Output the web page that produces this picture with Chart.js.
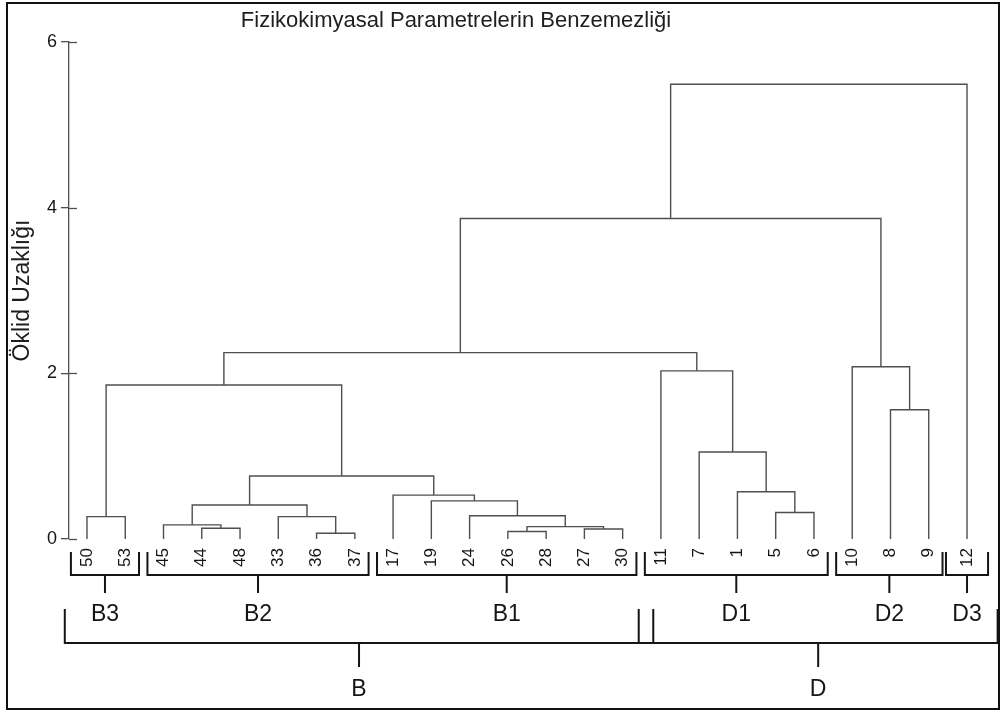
<!DOCTYPE html>
<html>
<head>
<meta charset="utf-8">
<script src="https://cdn.jsdelivr.net/npm/chart.js@4/dist/chart.umd.min.js"></script>
<style>
  html, body { margin: 0; padding: 0; background: #fff; }
  #wrap { width: 1002px; height: 713px; position: relative; }
</style>
</head>
<body>
<div id="wrap"><canvas id="c" width="1002" height="713"></canvas></div>
<script>
// Leaf order along the bottom of the dendrogram
const leafLabels = ['50','53','45','44','48','33','36','37','17','19','24','26','28','27','30','11','7','1','5','6','10','8','9','12'];

// Agglomeration steps: each step joins two nodes at a given distance.
// A node is either a leaf label (string) or the index of an earlier step (number).
const mergeLeft   = ['50','44','45','36','33', 2,'26','27', 6,'24','19','17', 5, 0,'5','1','7','11',13,'8','10',18,21];
const mergeRight  = ['53','48', 1,'37', 3, 4,'28','30', 7, 8, 9, 10, 11, 12,'6', 14, 15, 16, 17,'9', 19, 20,'12'];
const mergeHeight = [0.27,0.13,0.17,0.07,0.27,0.41,0.09,0.12,0.15,0.28,0.46,0.53,0.76,1.86,0.32,0.57,1.05,2.03,2.25,1.56,2.08,3.87,5.49];

// Sub-groups (first and last leaf of each)
const groupNames = ['B3','B2','B1','D1','D2','D3'];
const groupFirst = ['50','45','17','11','10','12'];
const groupLast  = ['53','37','30','6','9','12'];

// Main clusters
const clusterNames = ['B','D'];
const clusterFirst = ['50','11'];
const clusterLast  = ['30','12'];

const yTicks = [0, 2, 4, 6];

const titleText = 'Fizikokimyasal Parametrelerin Benzemezliği';
const yTitle = 'Öklid Uzaklığı';

const FONT = '"Liberation Sans", Arial, Helvetica, sans-serif';
const TREE_COLOR = '#4f4f4f';
const INK = '#151515';

// Build node coordinates: leaves sit at their index and height 0,
// each merge sits midway between its two children.
const nodes = [];
function nodeAt(ref) {
  if (typeof ref === 'string') return { x: leafLabels.indexOf(ref), y: 0 };
  return nodes[ref];
}
const datasets = [];
for (let i = 0; i < mergeHeight.length; i++) {
  const l = nodeAt(mergeLeft[i]);
  const r = nodeAt(mergeRight[i]);
  const h = mergeHeight[i];
  nodes.push({ x: (l.x + r.x) / 2, y: h });
  datasets.push({
    data: [ { x: l.x, y: l.y }, { x: l.x, y: h }, { x: r.x, y: h }, { x: r.x, y: r.y } ],
    borderColor: TREE_COLOR,
    borderWidth: 1.4,
    pointRadius: 0,
    fill: false,
    tension: 0
  });
}

// Small tick stubs on the inner side of the y axis, title and frame
const decorations = {
  id: 'decorations',
  afterDraw(chart) {
    const { ctx, chartArea } = chart;
    const ys = chart.scales.y;
    ctx.save();
    ctx.strokeStyle = TREE_COLOR;
    ctx.lineWidth = 1.3;
    yTicks.forEach(v => {
      const py = Math.round(ys.getPixelForValue(v)) + 0.5;
      ctx.beginPath();
      ctx.moveTo(chartArea.left, py);
      ctx.lineTo(chartArea.left + 8, py);
      ctx.stroke();
    });

    // title
    ctx.fillStyle = '#1e1e1e';
    ctx.font = '22px ' + FONT;
    ctx.textAlign = 'center';
    ctx.textBaseline = 'middle';
    ctx.fillText(titleText, 456, 21);

    // outer frame
    ctx.strokeStyle = '#111';
    ctx.lineWidth = 2;
    ctx.strokeRect(7, 3, 992, 706);
    ctx.restore();
  }
};

// Brackets below the leaf labels marking sub-groups and main clusters
const brackets = {
  id: 'brackets',
  afterDraw(chart) {
    const { ctx, chartArea } = chart;
    const xs = chart.scales.x;
    const base = chartArea.bottom;
    ctx.save();
    ctx.strokeStyle = INK;
    ctx.fillStyle = INK;
    ctx.lineWidth = 2;
    ctx.textAlign = 'center';
    ctx.textBaseline = 'middle';
    ctx.font = '23px ' + FONT;

    function bracket(x0, x1, yTop, yBar, yStem, yLabel, label, stemX) {
      const sx = stemX === undefined ? (x0 + x1) / 2 : stemX;
      ctx.beginPath();
      ctx.moveTo(x0, yTop); ctx.lineTo(x0, yBar); ctx.lineTo(x1, yBar); ctx.lineTo(x1, yTop);
      ctx.moveTo(sx, yBar); ctx.lineTo(sx, yStem);
      ctx.stroke();
      ctx.fillText(label, sx, yLabel);
    }

    groupNames.forEach((name, i) => {
      const a = leafLabels.indexOf(groupFirst[i]);
      const b = leafLabels.indexOf(groupLast[i]);
      let lo = a - 0.42, hi = b + 0.36;
      if (hi - lo < 1.1) { const m = (a + b) / 2; lo = m - 0.55; hi = m + 0.55; }
      bracket(xs.getPixelForValue(lo), xs.getPixelForValue(hi),
              base + 13, base + 36, base + 54, base + 76, name);
    });

    clusterNames.forEach((name, i) => {
      const a = leafLabels.indexOf(clusterFirst[i]);
      const b = leafLabels.indexOf(clusterLast[i]);
      const x0 = xs.getPixelForValue(a - 0.58);
      const x1 = Math.min(xs.getPixelForValue(b + 0.8), chart.width - 4);
      bracket(x0, x1, base + 70, base + 104, base + 128, base + 151, name);
    });
    ctx.restore();
  }
};

new Chart(document.getElementById('c'), {
  type: 'line',
  data: { datasets },
  options: {
    responsive: false,
    animation: false,
    events: [],
    layout: { padding: { left: 0, right: 17, top: 42, bottom: 134 } },
    plugins: {
      legend: { display: false },
      tooltip: { enabled: false },
      title: { display: false }
    },
    scales: {
      x: {
        type: 'linear',
        min: -0.47,
        max: 23.47,
        grid: { display: false, drawTicks: false },
        border: { display: false },
        afterBuildTicks: s => { s.ticks = leafLabels.map((_, i) => ({ value: i })); },
        afterFit: s => { s.height = 40; },
        ticks: {
          autoSkip: false,
          minRotation: 90,
          maxRotation: 90,
          padding: 9,
          color: INK,
          font: { family: FONT, size: 17 },
          callback: v => leafLabels[v]
        }
      },
      y: {
        min: 0,
        max: 6,
        afterBuildTicks: s => { s.ticks = yTicks.map(v => ({ value: v })); },
        afterFit: s => { s.width = 69; },
        ticks: { padding: 4, color: INK, font: { family: FONT, size: 18 } },
        grid: { drawOnChartArea: false, drawTicks: true, tickLength: 8, color: TREE_COLOR, lineWidth: 1.3 },
        border: { display: true, color: TREE_COLOR, width: 1.3 },
        title: {
          display: true,
          text: yTitle,
          color: '#1e1e1e',
          font: { family: FONT, size: 23 },
          padding: { top: 9, bottom: 0 }
        }
      }
    }
  },
  plugins: [decorations, brackets]
});
</script>
</body>
</html>
